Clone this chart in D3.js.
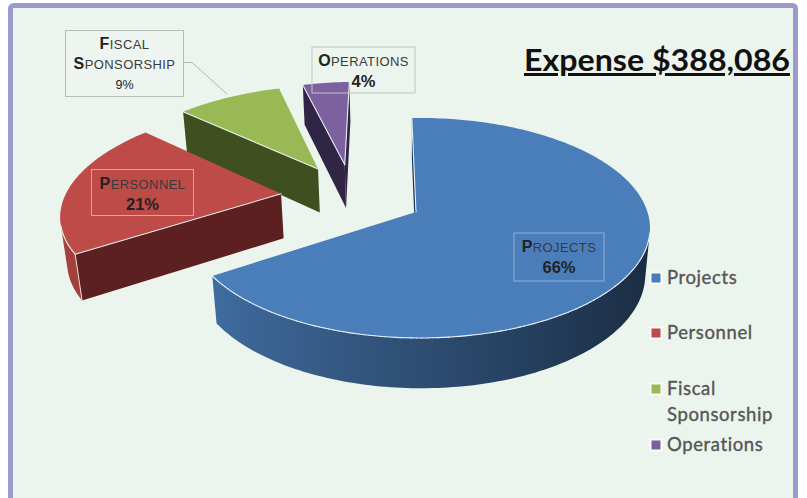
<!DOCTYPE html>
<html>
<head>
<meta charset="utf-8">
<script src="https://cdn.jsdelivr.net/npm/d3@7"></script>
<style>
  html, body { margin: 0; padding: 0; background: #fff; }
  svg { display: block; }
  .cap { font-family: "Liberation Sans", Arial, sans-serif; font-variant: small-caps; text-anchor: middle; fill: #3a3a3a; letter-spacing: 0.4px; }
  .pct { font-family: "Liberation Sans", Arial, sans-serif; text-anchor: middle; fill: #222; }
  .legend { font-family: Lato, sans-serif; font-size: 18.5px; fill: #555; stroke: #555; stroke-width: 0.35px; letter-spacing: 0.6px; }
</style>
</head>
<body>
<div id="chart"></div>
<script>
const svgWidth = 807;
const svgHeight = 498;

const categories = ["Projects", "Personnel", "Fiscal Sponsorship", "Operations"];
const percents = [66, 21, 9, 4];
const colors = ["#4a7ebb", "#be4b48", "#98b954", "#7d60a0"];
const wallColors = ["#1f3a5c", "#5c2020", "#3f4f20", "#302544"];
const title = "Expense $388,086";

const explode = 0.325;
const persp = 0.145;    // foreshortening of the tilted pie
const perspSide = 0.015; // left side sits a little further away
const depth = 46.5;
const apex = { x: 416, y: 212 };  // where the Projects slice point lands

const svg = d3.select("#chart")
  .append("svg")
  .attr("width", svgWidth)
  .attr("height", svgHeight);

const defs = svg.append("defs");

// frame
svg.append("rect")
  .attr("x", 10.5).attr("y", 5.5)
  .attr("width", 785).attr("height", 510)
  .attr("rx", 3)
  .attr("fill", "#ecf4ee")
  .attr("stroke", "#9b9bcb")
  .attr("stroke-width", 5);

const pie = d3.pie().sort(null).startAngle(-1.2 * Math.PI / 180).endAngle(2 * Math.PI - 1.2 * Math.PI / 180);
const arcs = pie(percents);

const dir = a => [Math.sin(a), -Math.cos(a)];
const mid = d => (d.startAngle + d.endAngle) / 2;
const base = dir(mid(arcs[0]));

// plane coords -> screen, z = 1 is the underside of the slice
function project(u, v, z) {
  const s = 1 / (1 - persp * v - perspSide * u + 0.02 * z);
  return [apex.x + 228 * u * s, apex.y + (107.7 * v + depth * z) * s];
}

const polyLine = d3.line();

function drawSlice(d, i) {
  const off = dir(mid(d)).map((c, k) => explode * (c - base[k]));
  const steps = d3.range(0, Math.ceil((d.endAngle - d.startAngle) / 0.02) + 1)
    .map(k => Math.min(d.startAngle + k * 0.02, d.endAngle));

  // slice outline, clockwise on screen: point, arc, back to the point
  const plane = [[off[0], off[1]]].concat(steps.map(a => {
    const p = dir(a);
    return [off[0] + p[0], off[1] + p[1]];
  }));
  const top = plane.map(p => project(p[0], p[1], 0));
  const bottom = plane.map(p => project(p[0], p[1], 1));
  const g = svg.append("g");
  const topColor = d3.rgb(colors[i]);
  const isVisible = (a, b) => d3.polygonArea([top[a], top[b], bottom[b], bottom[a]]) > 0;
  const n = top.length;

  // flat walls along the two straight cuts
  [0, n - 1].forEach(k => {
    const k2 = (k + 1) % n;
    if (!isVisible(k, k2)) return;
    g.append("path")
      .attr("d", polyLine([top[k], top[k2], bottom[k2], bottom[k]]) + "Z")
      .attr("fill", wallColors[i]);
  });

  // curved wall, one path per visible run, shaded left to right
  let run = [];
  const flush = () => {
    if (run.length < 2) { run = []; return; }
    const xs = run.map(k => top[k][0]);
    const x0 = d3.min(xs), x1 = d3.max(xs);
    const id = "rim" + i + "-" + run[0];
    const grad = defs.append("linearGradient")
      .attr("id", id)
      .attr("gradientUnits", "userSpaceOnUse")
      .attr("x1", x0).attr("x2", x1).attr("y1", 0).attr("y2", 0);
    run.slice().sort((a, b) => top[a][0] - top[b][0]).forEach(k => {
      const light = 0.62 - 0.28 * Math.sin(steps[k - 1]);
      grad.append("stop")
        .attr("offset", (top[k][0] - x0) / (x1 - x0))
        .attr("stop-color", d3.rgb(topColor.r * light, topColor.g * light, topColor.b * light).formatHex());
    });
    const pts = run.map(k => top[k]).concat(run.slice().reverse().map(k => bottom[k]));
    g.append("path")
      .attr("d", polyLine(pts) + "Z")
      .attr("fill", "url(#" + id + ")");
    run = [];
  };
  d3.range(1, n - 1).forEach(k => {
    if (isVisible(k, k + 1)) {
      if (!run.length) run.push(k);
      run.push(k + 1);
    } else {
      flush();
    }
  });
  flush();

  // top face
  g.append("path")
    .attr("d", polyLine(top) + "Z")
    .attr("fill", colors[i]);

  // pale highlight on the front edges
  d3.range(n).forEach(k => {
    const k2 = (k + 1) % n;
    if (!isVisible(k, k2)) return;
    g.append("path")
      .attr("d", polyLine([top[k], top[k2]]))
      .attr("stroke", "#e4edf2")
      .attr("stroke-width", 1.1)
      .attr("stroke-linecap", "round")
      .attr("fill", "none");
  });
  if (isVisible(0, 1) && isVisible(1, 2)) {
    g.append("path")
      .attr("d", polyLine([top[1], bottom[1]]))
      .attr("stroke", "#e8d8d8")
      .attr("stroke-width", 1)
      .attr("fill", "none");
  }
}

[3, 2, 1, 0].forEach(i => drawSlice(arcs[i], i));

// data labels
const labelBoxes = [
  { x: 514, y: 233, w: 90, h: 48, stroke: "#8fb0d8", fill: "none" },
  { x: 91.5, y: 169.5, w: 102, h: 46, stroke: "#dca5a3", fill: "none" },
  { x: 65.5, y: 30.5, w: 118, h: 66, stroke: "#bcbcbc", fill: "#eef5f0" },
  { x: 312, y: 47, w: 103, h: 46, stroke: "#c4c4c4", fill: "none" }
];
const labelLines = [["Projects"], ["Personnel"], ["Fiscal", "Sponsorship"], ["Operations"]];

labelBoxes.forEach((b, i) => {
  svg.append("rect")
    .attr("x", b.x).attr("y", b.y)
    .attr("width", b.w).attr("height", b.h)
    .attr("fill", b.fill)
    .attr("stroke", b.stroke)
    .attr("stroke-width", 1);

  const cx = b.x + b.w / 2;
  const lines = labelLines[i];
  lines.forEach((line, k) => {
    const t = svg.append("text")
      .attr("class", "cap")
      .attr("x", cx)
      .attr("y", b.y + 19 + (lines.length > 1 ? -1 + k * 20 : 0));
    t.append("tspan").attr("font-weight", "bold").attr("font-size", 16).attr("fill", "#222").text(line[0]);
    t.append("tspan").attr("font-size", 18).text(line.slice(1));
  });

  svg.append("text")
    .attr("class", "pct")
    .attr("x", cx)
    .attr("y", lines.length > 1 ? b.y + 58 : b.y + 40)
    .attr("font-size", i === 2 ? 12.5 : 16.5)
    .attr("font-weight", i === 2 ? "normal" : "bold")
    .text(percents[i] + "%");
});

// leader line for the fiscal label
svg.append("path")
  .attr("d", "M184,62.5H192L227,94")
  .attr("fill", "none")
  .attr("stroke", "#b4b8b4")
  .attr("stroke-width", 1);

// title
svg.append("text")
  .attr("x", 524).attr("y", 71)
  .attr("font-family", "Lato, sans-serif")
  .attr("font-weight", "bold")
  .attr("font-size", 30)
  .attr("fill", "#111")
  .attr("text-decoration", "underline")
  .attr("textLength", 266)
  .attr("lengthAdjust", "spacingAndGlyphs")
  .text(title);

// legend
const legendRows = [278, 333, 389, 445];
const legendLines = [["Projects"], ["Personnel"], ["Fiscal", "Sponsorship"], ["Operations"]];
categories.forEach((c, i) => {
  svg.append("rect")
    .attr("x", 649.5).attr("y", legendRows[i] - 6.5)
    .attr("width", 13).attr("height", 13)
    .attr("fill", "#fafcfa");
  svg.append("rect")
    .attr("x", 651.5).attr("y", legendRows[i] - 4.5)
    .attr("width", 9).attr("height", 9)
    .attr("fill", colors[i]);
  legendLines[i].forEach((line, k) => {
    svg.append("text")
      .attr("class", "legend")
      .attr("x", 667)
      .attr("y", legendRows[i] + 6 + k * 26)
      .text(line);
  });
});
</script>
</body>
</html>
